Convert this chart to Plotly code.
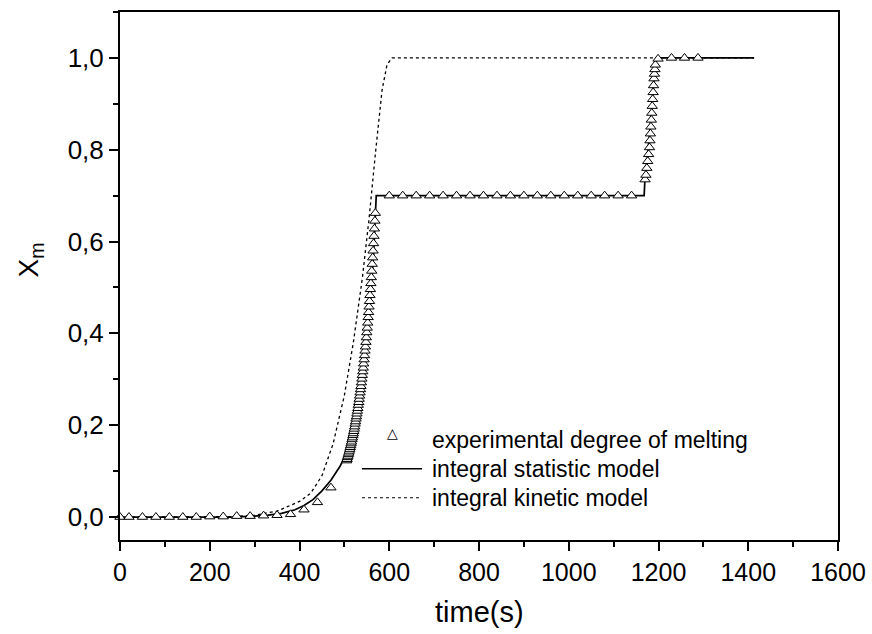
import plotly.graph_objects as go

# ---------------- data ----------------
exp_t = [0, 20, 50, 80, 110, 140, 170, 200, 230, 260, 290, 320, 350, 380, 410, 440, 470,
         505, 506, 507, 508, 509, 510, 511, 512, 513, 514, 515, 516, 517, 518, 519, 520,
         521, 522, 523, 524, 525, 526, 527, 528, 529, 530, 531, 532, 533, 534, 535, 536,
         537, 538, 539, 540, 541, 542, 543, 544, 545, 546, 547, 548, 549, 550, 551, 552,
         553, 554, 555, 556, 557, 558, 559, 560, 561, 562, 563, 564, 565, 566, 567, 568, 569,
         600, 630, 660, 690, 720, 750, 780, 810, 840, 870, 900, 930, 960, 990, 1020, 1050,
         1080, 1110, 1140,
         1170, 1172, 1174, 1176, 1178, 1180, 1181, 1182, 1183, 1184, 1185, 1186, 1187, 1188,
         1189, 1190, 1191, 1192, 1193,
         1199, 1229, 1258, 1288]
exp_y = [0.0, 0.0, 0.0, 0.0, 0.0, 0.0, 0.0, 0.001, 0.001, 0.002, 0.002, 0.003, 0.004, 0.006, 0.016, 0.032, 0.064,
         0.123, 0.126, 0.130, 0.133, 0.137, 0.140, 0.144, 0.148, 0.152, 0.156, 0.160, 0.164, 0.169, 0.173, 0.178, 0.182,
         0.187, 0.192, 0.197, 0.203, 0.208, 0.214, 0.219, 0.225, 0.231, 0.237, 0.244, 0.250, 0.257, 0.264, 0.271, 0.278,
         0.285, 0.293, 0.301, 0.309, 0.317, 0.325, 0.334, 0.343, 0.352, 0.362, 0.371, 0.381, 0.391, 0.402, 0.412, 0.423,
         0.435, 0.446, 0.458, 0.470, 0.483, 0.496, 0.509, 0.522, 0.536, 0.551, 0.565, 0.580, 0.596, 0.612, 0.628, 0.645, 0.662,
         0.70, 0.70, 0.70, 0.70, 0.70, 0.70, 0.70, 0.70, 0.70, 0.70, 0.70, 0.70, 0.70, 0.70, 0.70, 0.70,
         0.70, 0.70, 0.70,
         0.735, 0.745, 0.760, 0.775, 0.790, 0.805, 0.820, 0.835, 0.850, 0.865, 0.880, 0.895, 0.910, 0.925,
         0.940, 0.955, 0.965, 0.975, 0.985,
         0.998, 1.0, 1.0, 1.0]

stat_t = [0, 250, 300, 330, 360, 390, 410, 430, 450, 470, 490, 500, 510, 520, 530, 540, 550, 558,
          565, 569, 571, 1168, 1170, 1175, 1180, 1185, 1190, 1194, 1413]
stat_y = [0.0, 0.0, 0.002, 0.004, 0.008, 0.016, 0.025, 0.038, 0.057, 0.080, 0.110, 0.130, 0.160, 0.200,
          0.250, 0.310, 0.385, 0.470, 0.570, 0.660, 0.700, 0.700, 0.740, 0.780, 0.830, 0.890, 0.950, 1.0, 1.0]

kin_t = [0, 250, 300, 350, 400, 425, 450, 475, 500, 520, 540, 555, 570, 584, 595, 606, 1413]
kin_y = [0.0, 0.001, 0.004, 0.013, 0.034, 0.052, 0.090, 0.160, 0.265, 0.380, 0.520, 0.650, 0.800,
         0.930, 0.985, 1.0, 1.0]

x_ticks = [0, 200, 400, 600, 800, 1000, 1200, 1400, 1600]
x_ticktext = ["0", "200", "400", "600", "800", "1000", "1200", "1400", "1600"]
y_ticks = [0.0, 0.2, 0.4, 0.6, 0.8, 1.0]
y_ticktext = ["0,0", "0,2", "0,4", "0,6", "0,8", "1,0"]

x_title = "time(s)"
y_title = "X<sub>m</sub>"
legend_labels = ["experimental degree of melting", "integral statistic model", "integral kinetic model"]

FONT = "Liberation Sans, Arial, sans-serif"

fig = go.Figure()
fig.add_trace(go.Scatter(x=kin_t, y=kin_y, mode="lines",
                         line=dict(color="black", width=1.3, dash="dot"), showlegend=False))
fig.add_trace(go.Scatter(x=stat_t, y=stat_y, mode="lines",
                         line=dict(color="black", width=1.7), showlegend=False))
fig.add_trace(go.Scatter(x=exp_t, y=exp_y, mode="markers", cliponaxis=False,
                         marker=dict(symbol="triangle-up", size=9, color="white",
                                     line=dict(color="black", width=1)),
                         showlegend=False))

# manual legend (paper coordinates)
rows = [0.190, 0.135, 0.080]
lx0, lx1, ltx = 0.337, 0.4206, 0.432
fig.add_annotation(x=0.379, y=rows[0] - 0.006, xref="paper", yref="paper", text="△", showarrow=False,
                   font=dict(family="DejaVu Sans", size=14, color="black"))
fig.add_shape(type="line", xref="paper", yref="paper", x0=lx0, x1=lx1, y0=rows[1], y1=rows[1],
              line=dict(color="black", width=1.5))
fig.add_shape(type="line", xref="paper", yref="paper", x0=lx0, x1=lx1, y0=rows[2], y1=rows[2],
              line=dict(color="black", width=1.2, dash="dot"))
for r, lab in zip(rows, legend_labels):
    fig.add_annotation(x=ltx, y=r, xref="paper", yref="paper", text=lab, showarrow=False,
                       xanchor="left", yanchor="middle",
                       font=dict(family=FONT, size=23, color="black"))

# axis titles as annotations so they do not resize the plot area
fig.add_annotation(x=0.5, y=-0.137, xref="paper", yref="paper", text=x_title, showarrow=False,
                   xanchor="center", yanchor="middle", font=dict(family=FONT, size=29, color="black"))
fig.add_annotation(x=-0.125, y=0.53, xref="paper", yref="paper", text=y_title, showarrow=False,
                   textangle=-90, xanchor="center", yanchor="middle",
                   font=dict(family=FONT, size=28, color="black"))

fig.update_layout(
    width=872, height=634,
    margin=dict(l=120, r=34, t=12, b=94),
    paper_bgcolor="white", plot_bgcolor="white",
    font=dict(family=FONT, color="black"),
    xaxis=dict(range=[0, 1600], tickvals=x_ticks, ticktext=x_ticktext, automargin=False,
               ticks="outside", ticklen=9, tickwidth=1.5, tickcolor="black",
               minor=dict(dtick=100, tick0=0, ticks="outside", ticklen=5, tickwidth=1.5, tickcolor="black"),
               showline=True, linewidth=2, linecolor="black", mirror=True,
               showgrid=False, zeroline=False,
               tickfont=dict(size=25, family=FONT)),
    yaxis=dict(range=[-0.05, 1.1], tickvals=y_ticks, ticktext=y_ticktext, automargin=False,
               ticks="outside", ticklen=9, tickwidth=1.5, tickcolor="black",
               minor=dict(dtick=0.1, tick0=0, ticks="outside", ticklen=5, tickwidth=1.5, tickcolor="black"),
               showline=True, linewidth=2, linecolor="black", mirror=True,
               showgrid=False, zeroline=False,
               tickfont=dict(size=26, family=FONT)),
)

fig.write_html("out.html")
